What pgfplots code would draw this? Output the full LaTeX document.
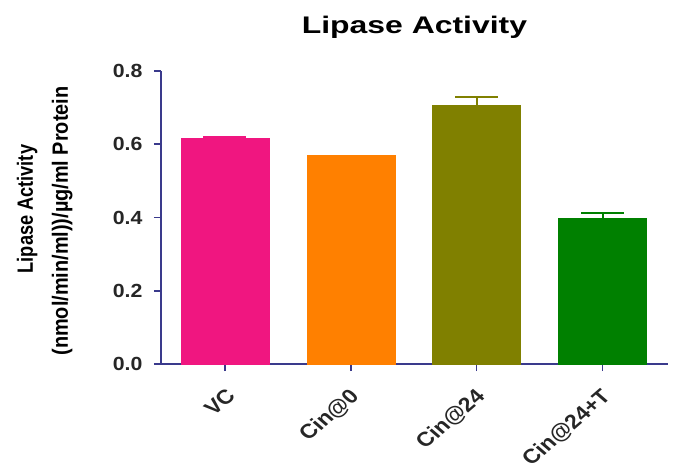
\documentclass[border=0pt]{standalone}
\usepackage{pgfplots}
\pgfplotsset{compat=1.18}
\usepackage{fontspec}
\setmainfont{Liberation Sans}
\definecolor{axc}{RGB}{58,58,140}
\definecolor{c1}{RGB}{240,22,128}
\definecolor{c2}{RGB}{255,128,0}
\definecolor{c3}{RGB}{128,128,0}
\definecolor{c4}{RGB}{0,128,0}
\newcommand{\xl}[1]{\scalebox{1.16}[1]{\rotatebox{45}{#1}}}
\begin{document}
\begin{tikzpicture}
\path[use as bounding box] (0,0) rectangle (683pt,466pt);
\begin{axis}[
  at={(161pt,102pt)}, anchor=south west,
  scale only axis, width=507pt, height=293pt,
  xmin=-0.508, xmax=3.52, ymin=0, ymax=0.8,
  axis lines=left, axis line style={axc, line width=1.6pt, -},
  every tick/.style={axc, line width=1.6pt},
  tick align=outside, major tick length=7pt,
  xtick={0,1,2,3},
  xticklabels={\xl{VC},\xl{Cin@0},\xl{Cin@24},\xl{Cin@24+T}},
  xticklabel style={anchor=north east, font=\fontsize{20}{22}\selectfont\bfseries, text=black!85, inner sep=0pt, xshift=12pt, yshift=-16pt},
  ytick={0,0.2,0.4,0.6,0.8},
  yticklabel={\scalebox{1.12}[1]{\pgfmathprintnumber[fixed,fixed zerofill,precision=1,assume math mode=true]{\tick}}},
  yticklabel style={font=\fontsize{19}{22}\selectfont\bfseries, text=black!85, xshift=-8pt},
  ylabel={\begin{tabular}{c}\hspace*{17pt}\scalebox{1.07}[1.3]{Lipase Activity}\\\scalebox{1.17}[1.3]{(nmol/min/ml))/µg/ml Protein}\hspace*{7pt}\end{tabular}},
  ylabel style={font=\fontsize{17}{35}\selectfont\bfseries, at={(axis description cs:-0.232,0.5)}, anchor=center},
  title={\scalebox{1.33}[1]{Lipase Activity}},
  title style={font=\fontsize{24}{26}\selectfont\bfseries, at={(axis description cs:0.5,1)}, anchor=south, yshift=23pt},
  ybar, bar width=88pt, bar shift=0pt,
  error bars/y dir=plus, error bars/y explicit,
  error bars/error mark=|,
  clip=false,
]
\addplot[fill=c1, draw=c1, error bars/error bar style={c1, line width=2pt}, error bars/error mark options={c1, line width=2pt, mark size=21.5pt}] coordinates {(0,0.616) +- (0,0.003)};
\addplot[fill=c2, draw=c2] coordinates {(1,0.571)};
\addplot[fill=c3, draw=c3, error bars/error bar style={c3, line width=2pt}, error bars/error mark options={c3, line width=2pt, mark size=21.5pt}] coordinates {(2,0.707) +- (0,0.022)};
\addplot[fill=c4, draw=c4, error bars/error bar style={c4, line width=2pt}, error bars/error mark options={c4, line width=2pt, mark size=21.5pt}] coordinates {(3,0.399) +- (0,0.012)};
\end{axis}
\end{tikzpicture}
\end{document}
